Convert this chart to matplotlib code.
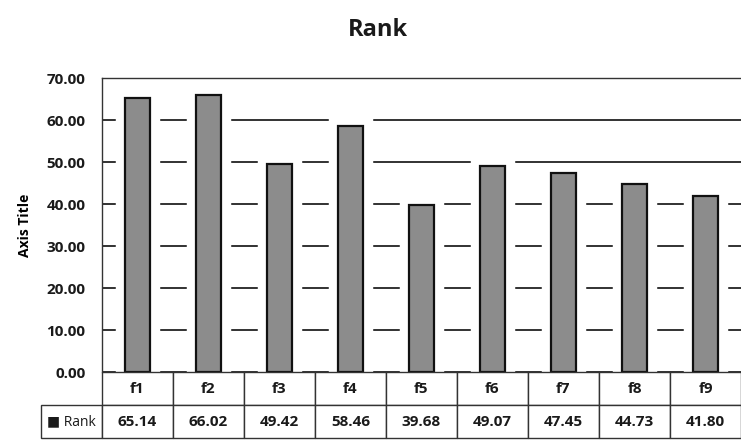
import matplotlib.pyplot as plt
import matplotlib.patheffects as pe
import numpy as np

categories = ['f1', 'f2', 'f3', 'f4', 'f5', 'f6', 'f7', 'f8', 'f9']
rank = [65.14, 66.02, 49.42, 58.46, 39.68, 49.07, 47.45, 44.73, 41.80]
yticks = [0, 10, 20, 30, 40, 50, 60, 70]

plt.rcParams['font.family'] = ['Open Sans', 'DejaVu Sans']

fig = plt.figure(figsize=(7.41, 4.40), dpi=100)
ax = fig.add_axes([102 / 741, 1 - 372 / 440, 1 - 102 / 741, 294 / 440])

x = np.arange(len(categories))
bars = ax.bar(x, rank, width=0.34, color='#8c8c8c', edgecolor='#111111',
              linewidth=1.6, zorder=3)
# white margin around each column breaks the gridlines beside it
for b in bars:
    b.set_joinstyle('miter')
    b.set_path_effects([pe.Stroke(linewidth=14, foreground='white'), pe.Normal()])

ax.set_xlim(-0.5, len(categories) - 0.5)
ax.set_ylim(0, 70)
ax.set_yticks(yticks)
ax.set_yticklabels([f'{v:.2f}' for v in yticks], fontsize=11, fontweight='bold',
                   color='#1a1a1a')
ax.tick_params(axis='y', length=0, pad=12)
ax.set_xticks([])
ax.grid(axis='y', color='#222222', linewidth=1.3, zorder=0)
for side in ['left', 'top']:
    ax.spines[side].set_color('#333333')
    ax.spines[side].set_linewidth(1.0)
    ax.spines[side].set_zorder(4)
ax.spines['right'].set_visible(False)
ax.spines['bottom'].set_visible(False)

ax.set_ylabel('Axis Title', fontsize=10, fontweight='bold', labelpad=10)

# data table under the plot area, first column holds the series label
label_w = 61 / 639
row_h = 33 / 294
col_w = 1 / len(categories)
tbl = ax.table(cellText=[['\u25a0 Rank'] + [f'{v:.2f}' for v in rank]],
               colLabels=[''] + categories,
               colWidths=[label_w] + [col_w] * len(categories),
               cellLoc='center',
               bbox=[-label_w, -2 * row_h, 1 + label_w, 2 * row_h])
tbl.set_zorder(5)
tbl.auto_set_font_size(False)
tbl.set_fontsize(11)
for (r, c), cell in tbl.get_celld().items():
    cell.set_edgecolor('#333333')
    cell.set_linewidth(1.0)
    cell.get_text().set_color('#1a1a1a')
    if c > 0:
        cell.get_text().set_fontweight('bold')
    if r == 0 and c == 0:
        cell.visible_edges = ''
tbl[(1, 0)].get_text().set_fontsize(10)

fig.text(378 / 741, 1 - 30 / 440, 'Rank', ha='center', va='center',
         fontsize=17, fontweight='bold', color='#1a1a1a')

fig.savefig('out.png', dpi=100)
